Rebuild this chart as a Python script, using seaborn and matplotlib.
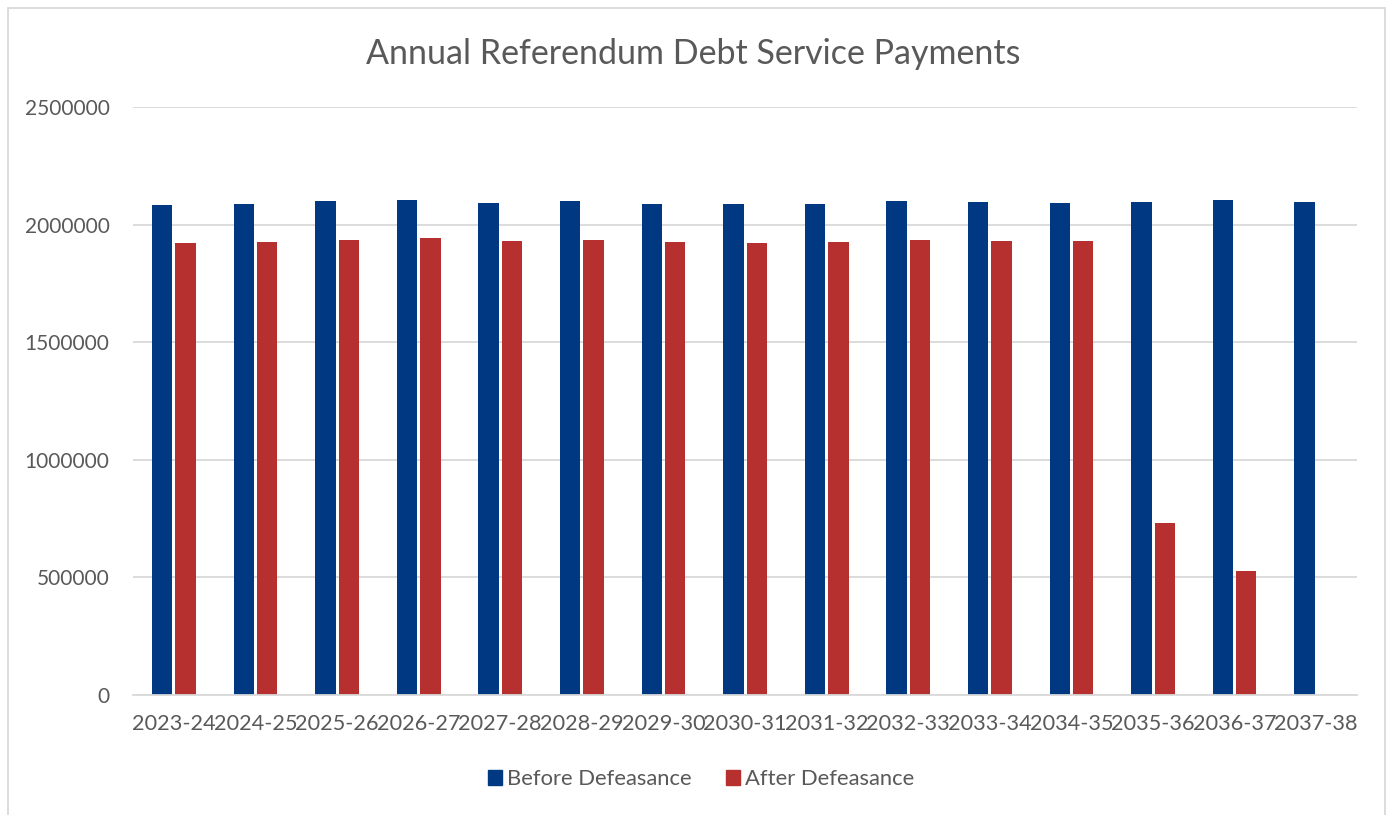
import matplotlib
matplotlib.use("Agg")
import matplotlib.pyplot as plt
import matplotlib.patches as mpatches
import seaborn as sns
import pandas as pd

years = ["2023-24", "2024-25", "2025-26", "2026-27", "2027-28", "2028-29", "2029-30",
         "2030-31", "2031-32", "2032-33", "2033-34", "2034-35", "2035-36", "2036-37", "2037-38"]
before = [2085000, 2088000, 2099000, 2106000, 2093000, 2099000, 2088000,
          2087000, 2088000, 2099000, 2096000, 2093000, 2098000, 2105000, 2098000]
after = [1922000, 1924000, 1936000, 1941000, 1931000, 1936000, 1924000,
         1922000, 1924000, 1935000, 1931000, 1929000, 733000, 527000, None]
series_names = ["Before Defeasance", "After Defeasance"]
colors = ["#003882", "#B5302E"]
yticks = [0, 500000, 1000000, 1500000, 2000000, 2500000]

df = pd.DataFrame({
    "Year": years * 2,
    "Payment": before + after,
    "Series": [series_names[0]] * len(years) + [series_names[1]] * len(years),
})

sns.set_theme(style="white")
plt.rcParams["font.family"] = ["Lato", "DejaVu Sans"]
text_color = "#595959"

fig = plt.figure(figsize=(13.86, 8.15), dpi=100)
ax = fig.add_axes([0.0960, 0.1472, 0.8831, 0.7215])

sns.barplot(data=df, x="Year", y="Payment", hue="Series", order=years,
            hue_order=series_names, palette=colors, width=0.573, gap=0.13,
            saturation=1, ax=ax, legend=False, edgecolor="none")

ax.set_ylim(0, 2500000)
ax.set_xlim(-0.5, len(years) - 0.5)
ax.set_yticks(yticks)
ax.set_yticklabels([str(v) for v in yticks])
ax.yaxis.grid(True, color="#D9D9D9", linewidth=1.3)
ax.set_axisbelow(True)
for side in ["top", "right", "left"]:
    ax.spines[side].set_visible(False)
ax.spines["bottom"].set_color("#D9D9D9")
ax.spines["bottom"].set_linewidth(1.3)
ax.tick_params(axis="both", length=0, colors=text_color)
ax.tick_params(axis="y", pad=17, labelsize=15)
ax.tick_params(axis="x", pad=14, labelsize=15.6)
ax.set_xlabel("")
ax.set_ylabel("")

fig.text(0.5, 0.934, "Annual Referendum Debt Service Payments", ha="center", va="center",
         fontsize=24.5, color=text_color)

handles = [mpatches.Patch(color=c, label=n) for c, n in zip(colors, series_names)]
fig.legend(handles=handles, loc="center", bbox_to_anchor=(0.506, 0.044), ncol=2,
           frameon=False, fontsize=15.8, handlelength=0.62, handleheight=0.62,
           handletextpad=0.25, columnspacing=1.55, labelcolor=text_color)

# light chart-area border
border = mpatches.Rectangle((8 / 1386, -0.05), 1377 / 1386, 1.05 - 8 / 815,
                            transform=fig.transFigure, fill=False,
                            edgecolor="#D9D9D9", linewidth=1.3)
fig.add_artist(border)

fig.savefig("out.png", dpi=100)
